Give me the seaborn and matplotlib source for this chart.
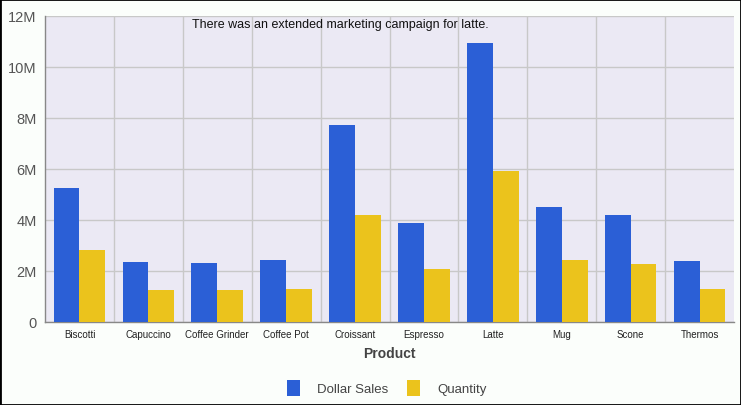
import matplotlib
matplotlib.use('Agg')
import matplotlib.pyplot as plt
from matplotlib.patches import Patch
import seaborn as sns
import pandas as pd
import numpy as np
from matplotlib.ticker import FuncFormatter, MultipleLocator, FixedLocator

products = ['Biscotti', 'Capuccino', 'Coffee Grinder', 'Coffee Pot', 'Croissant',
            'Espresso', 'Latte', 'Mug', 'Scone', 'Thermos']
dollar_sales = [5.25, 2.35, 2.31, 2.43, 7.73, 3.88, 10.94, 4.51, 4.20, 2.39]
quantity = [2.82, 1.25, 1.25, 1.29, 4.20, 2.08, 5.92, 2.43, 2.27, 1.29]
series_names = ['Dollar Sales', 'Quantity']
colors = ['#2B5FD6', '#EBC31C']

df = pd.DataFrame({
    'Product': products * 2,
    'Series': [series_names[0]] * len(products) + [series_names[1]] * len(products),
    'Value': [v * 1e6 for v in dollar_sales + quantity],
})

sns.set_style('white')
plt.rcParams['font.family'] = ['Liberation Sans', 'DejaVu Sans']

fig = plt.figure(figsize=(7.41, 4.06), dpi=100, facecolor='#FBFEFB')
ax = fig.add_axes([45 / 741, 1 - 323 / 406, 689 / 741, 306 / 406])
ax.set_facecolor('#EBE9F4')

sns.barplot(data=df, x='Product', y='Value', hue='Series', palette=colors,
            width=0.75, saturation=1, linewidth=0, ax=ax, zorder=3, legend=False)

ax.set_ylim(0, 12e6)
ax.set_xlim(-0.5, len(products) - 0.5)
ax.yaxis.set_major_locator(MultipleLocator(2e6))
ax.yaxis.set_major_formatter(FuncFormatter(lambda v, p: '0' if v == 0 else f'{int(v / 1e6)}M'))
ax.xaxis.set_minor_locator(FixedLocator(np.arange(0.5, len(products) - 0.5, 1)))
ax.grid(axis='y', which='major', color='#C8C8C8', linewidth=1, zorder=0)
ax.grid(axis='x', which='minor', color='#C8C8C8', linewidth=1, zorder=0)
ax.set_axisbelow(True)

for s in ['top', 'right']:
    ax.spines[s].set_visible(False)
for s in ['left', 'bottom']:
    ax.spines[s].set_color('#888888')
    ax.spines[s].set_linewidth(1)

ax.tick_params(axis='y', labelsize=10.5, colors='#555555', length=0, pad=6)
ax.tick_params(axis='x', which='both', length=0, labelsize=7, labelcolor='#222222', pad=5)
ax.set_xlabel('Product', fontsize=10, fontweight='bold', color='#444444', labelpad=5)
ax.set_ylabel('')

ax.text(0.428, 0.995, 'There was an extended marketing campaign for latte.',
        transform=ax.transAxes, ha='center', va='top', fontsize=9, color='#111111')

handles = [Patch(facecolor=c, edgecolor='none', label=n) for c, n in zip(colors, series_names)]
fig.legend(handles=handles, loc='center', bbox_to_anchor=(387 / 741, 1 - 389 / 406),
           ncol=2, frameon=False, fontsize=9.5, labelcolor='#444444',
           handlelength=1.0, handleheight=1.4, handletextpad=1.3, columnspacing=1.4)

border = plt.Rectangle((0, 0), 1, 1, transform=fig.transFigure, fill=False,
                       edgecolor='black', linewidth=2)
fig.patches.append(border)

fig.savefig('out.png', dpi=100, facecolor=fig.get_facecolor())
